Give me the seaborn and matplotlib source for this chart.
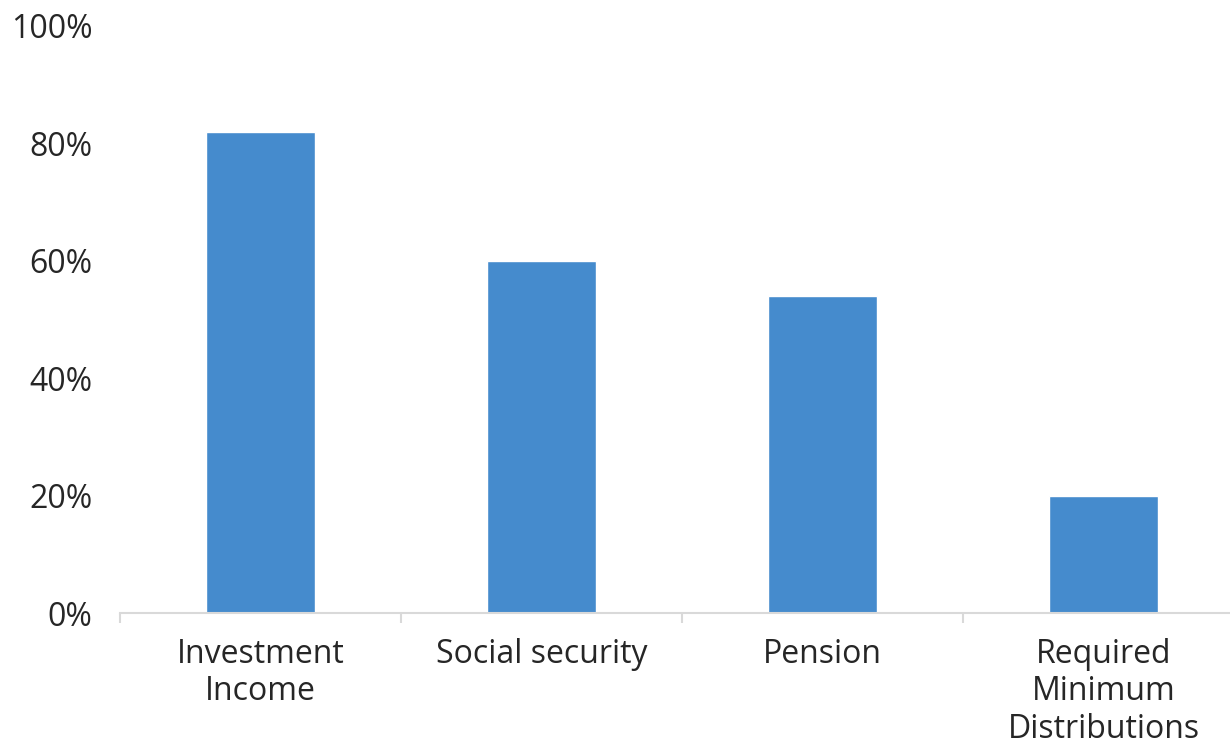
import matplotlib
matplotlib.use("Agg")
import matplotlib.pyplot as plt
import seaborn as sns
import pandas as pd
from matplotlib.ticker import FixedLocator, PercentFormatter

categories = ["Investment\nIncome", "Social security", "Pension", "Required\nMinimum\nDistributions"]
shares = [82, 60, 54, 20]
y_ticks = [0, 20, 40, 60, 80, 100]

sns.set_style("white")
plt.rcParams["font.family"] = ["Open Sans", "DejaVu Sans"]

df = pd.DataFrame({"source": categories, "share": shares})

fig = plt.figure(figsize=(12.3, 7.45), dpi=100)
ax = fig.add_axes([120 / 1230, 132 / 745, 1124 / 1230, 587 / 745])

sns.barplot(data=df, x="source", y="share", color="#458BCD", saturation=1,
            width=0.39, ax=ax)

ax.set_ylim(0, 100)
ax.set_xlim(-0.5, 3.5)
ax.set_yticks(y_ticks)
ax.yaxis.set_major_formatter(PercentFormatter(decimals=0))
ax.set_xlabel("")
ax.set_ylabel("")

for s in ["top", "right", "left"]:
    ax.spines[s].set_visible(False)
ax.spines["bottom"].set_color("#d9d9d9")
ax.spines["bottom"].set_linewidth(1.5)

# category labels centred, boundary tick marks between categories
ax.xaxis.set_minor_locator(FixedLocator([-0.5, 0.5, 1.5, 2.5, 3.5]))
ax.tick_params(axis="x", which="major", length=0, pad=18, labelsize=23,
               labelcolor="#262626")
ax.tick_params(axis="x", which="minor", length=7.5, width=1.5, color="#d9d9d9",
               bottom=True)
ax.tick_params(axis="y", length=0, pad=20, labelsize=23, labelcolor="#262626")
for lbl in ax.get_xticklabels():
    lbl.set_linespacing(1.17)
    lbl.set_verticalalignment("top")

fig.savefig("out.png", dpi=100, facecolor="white")
